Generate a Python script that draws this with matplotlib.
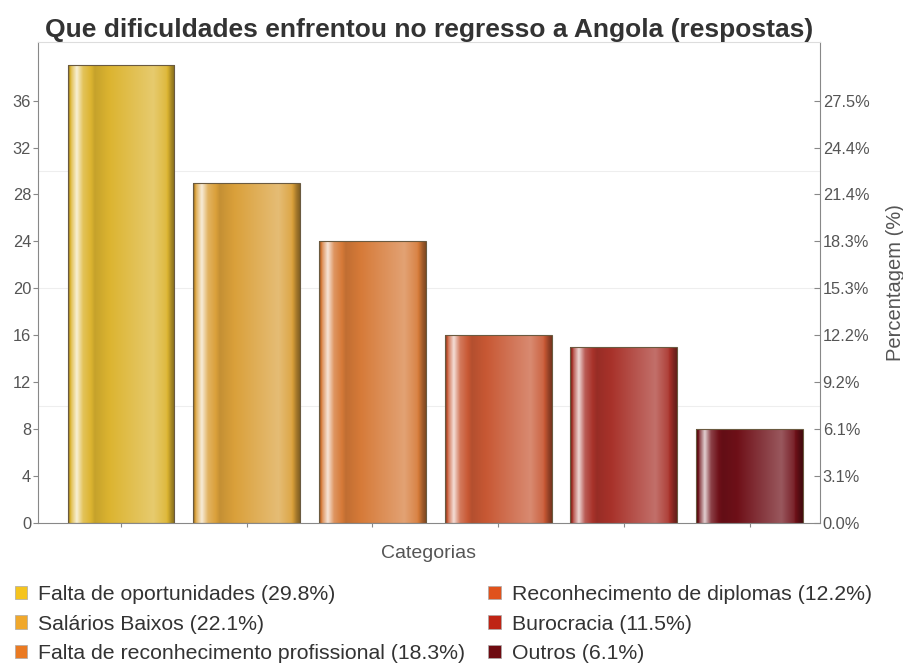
import numpy as np
import matplotlib.pyplot as plt
from matplotlib.patches import Patch
from matplotlib.colors import to_rgb

plt.rcParams['font.family'] = ['Liberation Sans', 'DejaVu Sans']

categorias = ['Falta de oportunidades', 'Salários Baixos',
              'Falta de reconhecimento profissional',
              'Reconhecimento de diplomas', 'Burocracia', 'Outros']
respostas = [39, 29, 24, 16, 15, 8]
cores_barra = ['#dcb430', '#daa03a', '#d67a38', '#c85834', '#a8322a', '#6e1018']
cores_legenda = ['#f5c41e', '#f0a82c', '#ea7a22', '#e0521c', '#bf2414', '#6e0a10']
ticks_y = [0, 4, 8, 12, 16, 20, 24, 28, 32, 36]

total = sum(respostas)
x = np.arange(len(respostas))

fig = plt.figure(figsize=(9.04, 6.65), dpi=100)
ax = fig.add_axes([0.042, 0.2135, 0.865, 0.7235])

bars = ax.bar(x, respostas, width=0.85, color='none', edgecolor='#6a5a40',
              linewidth=0.8, zorder=3)

# perfil de sombreado horizontal (tipo cilindro)
pos = [0.0, 0.03, 0.08, 0.14, 0.25, 0.55, 0.80, 0.92, 0.97, 1.0]
shade = [-0.4, 0.2, 0.8, 0.2, -0.1, 0.12, 0.3, 0.08, -0.25, -0.4]
u = np.linspace(0, 1, 200)
prof = np.interp(u, pos, shade)

for rect, c in zip(bars, cores_barra):
    base = np.array(to_rgb(c))
    img = np.zeros((1, len(u), 3))
    for i, s in enumerate(prof):
        if s >= 0:
            img[0, i] = base + (1 - base) * s
        else:
            img[0, i] = base * (1 + s)
    x0, y0 = rect.get_x(), rect.get_y()
    w, h = rect.get_width(), rect.get_height()
    im = ax.imshow(img, extent=[x0, x0 + w, y0, y0 + h], aspect='auto',
                   zorder=2, interpolation='bilinear')
    im.set_clip_path(rect)

ax.set_xlim(-0.66, 5.56)
ax.set_ylim(0, 41)
ax.set_yticks(ticks_y)
ax.set_xticks(x)
ax.set_xticklabels([])
for yv in [10, 20, 30]:
    ax.axhline(yv, color='#eeeeee', linewidth=0.8, zorder=1)

for sp in ['left', 'bottom', 'right']:
    ax.spines[sp].set_color('#888888')
ax.spines['top'].set_color('#dddddd')
ax.tick_params(axis='y', colors='#888888', labelcolor='#555555', labelsize=11.8,
               length=3.5, width=0.8, pad=1.5)
ax.tick_params(axis='x', colors='#888888', length=3)
ax.set_xlabel('Categorias', fontsize=14, color='#555555', labelpad=9)

ax2 = ax.twinx()
ax2.set_ylim(ax.get_ylim())
ax2.set_yticks(ticks_y)
ax2.set_yticklabels([f'{v / total * 100:.1f}%' for v in ticks_y])
ax2.tick_params(axis='y', colors='#888888', labelcolor='#555555', labelsize=11.8,
                length=4, width=0.8, direction='in', pad=2)
for sp in ax2.spines.values():
    sp.set_visible(False)
ax2.set_ylabel('Percentagem (%)', fontsize=14.5, color='#555555', labelpad=12)

ax.set_title('Que dificuldades enfrentou no regresso a Angola (respostas)',
             fontsize=19, fontweight='bold', color='#333333', pad=2)

handles = [Patch(facecolor=c, edgecolor='#aaaaaa', linewidth=0.5) for c in cores_legenda]
labels = [f'{n} ({v / total * 100:.1f}%)' for n, v in zip(categorias, respostas)]
fig.legend(handles, labels, loc='lower left', bbox_to_anchor=(-0.005, -0.026), ncol=2,
           frameon=False, fontsize=15.3, handlelength=0.6, handleheight=0.6,
           handletextpad=0.5, columnspacing=1.1, labelspacing=0.5,
           labelcolor='#333333')

fig.savefig('out.png', dpi=100)
